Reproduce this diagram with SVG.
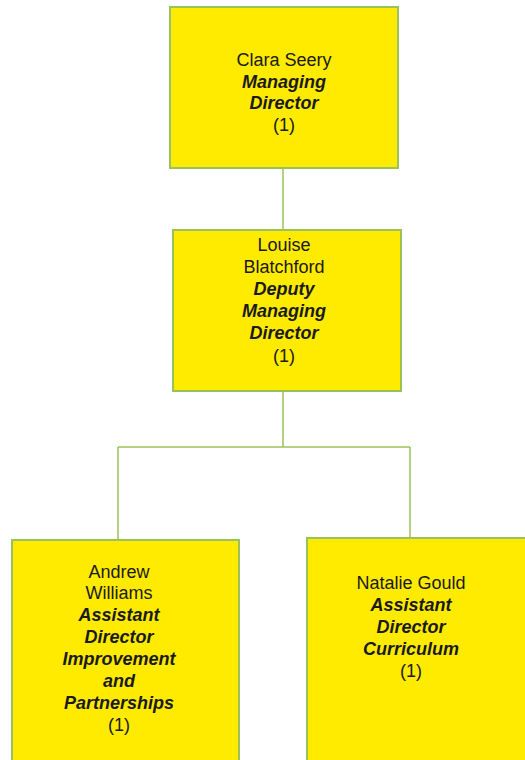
<svg xmlns="http://www.w3.org/2000/svg" width="525" height="760" viewBox="0 0 525 760">
<style>
.box{fill:#FFEB00;stroke:#9BC15A;stroke-width:2}
.conn{fill:none;stroke:#9BC15A;stroke-width:1.5}
text{font-family:"Liberation Sans",Arial,sans-serif;font-size:18px;fill:#1a1a1a;text-anchor:middle}
.t{font-weight:bold;font-style:italic}
</style>
<rect width="525" height="760" fill="#ffffff"/>
<g id="connectors">
<path class="conn" d="M283,168 V230"/>
<path class="conn" d="M283,391 V447"/>
<path class="conn" d="M118,447 H410"/>
<path class="conn" d="M118,447 V540"/>
<path class="conn" d="M410,447 V538"/>
</g>
<g id="clara">
<rect class="box" x="170" y="7" width="228" height="161"/>
<text x="284" y="66">Clara Seery</text>
<text class="t" x="284" y="88">Managing</text>
<text class="t" x="284" y="109">Director</text>
<text x="284" y="131">(1)</text>
</g>
<g id="louise">
<rect class="box" x="173" y="230" width="228" height="161"/>
<text x="284" y="251">Louise</text>
<text x="284" y="273">Blatchford</text>
<text class="t" x="284" y="295">Deputy</text>
<text class="t" x="284" y="317">Managing</text>
<text class="t" x="284" y="339">Director</text>
<text x="284" y="362">(1)</text>
</g>
<g id="andrew">
<rect class="box" x="12" y="540" width="227" height="240"/>
<text x="119" y="578">Andrew</text>
<text x="119" y="599">Williams</text>
<text class="t" x="119" y="621">Assistant</text>
<text class="t" x="119" y="643">Director</text>
<text class="t" x="119" y="665">Improvement</text>
<text class="t" x="119" y="687">and</text>
<text class="t" x="119" y="709">Partnerships</text>
<text x="119" y="731">(1)</text>
</g>
<g id="natalie">
<rect class="box" x="307" y="538" width="240" height="240"/>
<text x="411" y="589">Natalie Gould</text>
<text class="t" x="411" y="611">Assistant</text>
<text class="t" x="411" y="633">Director</text>
<text class="t" x="411" y="655">Curriculum</text>
<text x="411" y="677">(1)</text>
</g>
</svg>
